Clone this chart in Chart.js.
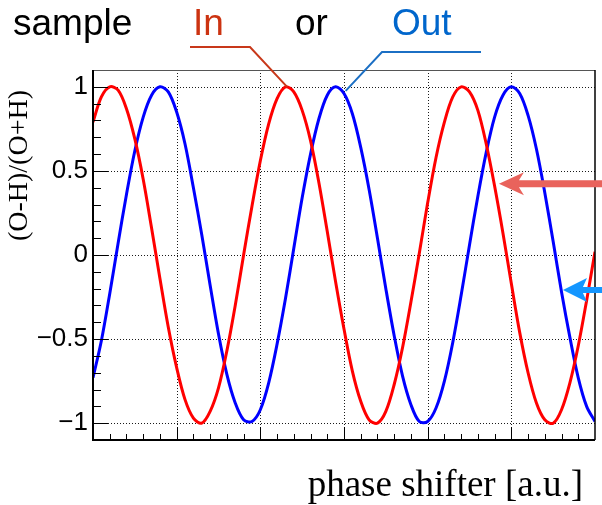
<!DOCTYPE html>
<html>
<head>
<meta charset="utf-8">
<script src="https://cdn.jsdelivr.net/npm/chart.js@4.4.1/dist/chart.umd.min.js"></script>
<style>
  html, body { margin: 0; padding: 0; background: #fff; }
  canvas { display: block; }
</style>
</head>
<body>
<canvas id="c" width="602" height="505"></canvas>
<script>
// Phase-shifter settings (a.u.)
const phase = [
  0.0, 0.1, 0.2, 0.3, 0.4, 0.5, 0.6, 0.7, 0.8, 0.9,
  1.0, 1.1, 1.2, 1.3, 1.4, 1.5, 1.6, 1.7, 1.8, 1.9,
  2.0, 2.1, 2.2, 2.3, 2.4, 2.5, 2.6, 2.7, 2.8, 2.9,
  3.0, 3.1, 3.2, 3.3, 3.4, 3.5, 3.6, 3.7, 3.8, 3.9,
  4.0, 4.1, 4.2, 4.3, 4.4, 4.5, 4.6, 4.7, 4.8, 4.9,
  5.0, 5.1, 5.2, 5.3, 5.4, 5.5, 5.6, 5.7, 5.8, 5.9,
  6.0
];

// Asymmetry (O-H)/(O+H) with the sample "In"
const asymIn = [
   0.79,  0.94,  1.00,  0.98,  0.87,  0.69,  0.45,  0.16, -0.14, -0.43,
  -0.67, -0.86, -0.97, -1.00, -0.93, -0.79, -0.57, -0.30,  0.00,  0.29,
   0.56,  0.78,  0.93,  1.00,  0.97,  0.86,  0.68,  0.43,  0.14, -0.16,
  -0.44, -0.69, -0.87, -0.98, -1.00, -0.93, -0.77, -0.55, -0.28,  0.01,
   0.31,  0.58,  0.79,  0.94,  1.00,  0.97,  0.86,  0.66,  0.41,  0.13,
  -0.17, -0.46, -0.70, -0.88, -0.98, -1.00, -0.92, -0.76, -0.54, -0.27,
   0.02
];

// Asymmetry (O-H)/(O+H) with the sample "Out"
const asymOut = [
  -0.73, -0.51, -0.23,  0.07,  0.36,  0.62,  0.82,  0.95,  1.00,  0.97,
   0.85,  0.66,  0.40,  0.12, -0.18, -0.47, -0.71, -0.88, -0.98, -0.99,
  -0.92, -0.76, -0.53, -0.26,  0.04,  0.34,  0.60,  0.81,  0.95,  1.00,
   0.96,  0.84,  0.64,  0.39,  0.10, -0.20, -0.48, -0.72, -0.89, -0.99,
  -0.99, -0.91, -0.75, -0.52, -0.24,  0.06,  0.35,  0.61,  0.82,  0.95,
   1.00,  0.96,  0.83,  0.63,  0.37,  0.08, -0.22, -0.49, -0.73, -0.90,
  -0.99
];

const yTickValues = [-1, -0.5, 0, 0.5, 1];
const yTickLabels = ['\u22121', '\u22120.5', '0', '0.5', '1'];
const xMajorTicks = [0, 1, 2, 3, 4, 5, 6];

// Arrow tips and leader-line anchors, in data units
const arrowIn  = { x: 4.852, y: 0.423 };
const arrowOut = { x: 5.617, y: -0.208 };
const leaderIn  = { x: 2.32, y: 1.0 };
const leaderOut = { x: 3.02, y: 0.976 };

const SANS = '"Liberation Sans", Arial, Helvetica, sans-serif';
const SERIF = '"Liberation Serif", "Times New Roman", Times, serif';

// Grid, tick marks and frame in the style of a ROOT canvas
const framePlugin = {
  id: 'frame',
  beforeDatasetsDraw(chart) {
    const { ctx, chartArea: a, scales: { x, y } } = chart;
    ctx.save();
    ctx.strokeStyle = '#1a1a1a';
    ctx.lineWidth = 1;
    ctx.setLineDash([1, 2]);
    for (const v of yTickValues) {
      const py = Math.round(y.getPixelForValue(v)) + 0.5;
      ctx.beginPath(); ctx.moveTo(a.left, py); ctx.lineTo(a.right, py); ctx.stroke();
    }
    for (const v of xMajorTicks) {
      if (v <= x.min || v >= x.max) continue;
      const px = Math.round(x.getPixelForValue(v)) + 0.5;
      ctx.beginPath(); ctx.moveTo(px, a.bottom); ctx.lineTo(px, a.top); ctx.stroke();
    }
    ctx.restore();
  },
  afterDatasetsDraw(chart) {
    const { ctx, chartArea: a, scales: { x, y } } = chart;
    ctx.save();
    ctx.setLineDash([]);
    ctx.strokeStyle = '#000';
    ctx.lineWidth = 1;
    // y axis ticks: major every 0.5, minor every 0.1
    for (let i = -10; i <= 10; i++) {
      const py = Math.round(y.getPixelForValue(i / 10)) + 0.5;
      const len = (i % 5 === 0) ? 15 : 8;
      ctx.beginPath(); ctx.moveTo(a.left, py); ctx.lineTo(a.left + len, py); ctx.stroke();
    }
    // x axis ticks: major every 1, minor every 0.2
    for (let i = 1; i < 30; i++) {
      const px = Math.round(x.getPixelForValue(i / 5)) + 0.5;
      const len = (i % 5 === 0) ? 13 : 6;
      ctx.beginPath(); ctx.moveTo(px, a.bottom); ctx.lineTo(px, a.bottom - len); ctx.stroke();
    }
    // frame
    ctx.strokeStyle = '#555';
    ctx.lineWidth = 1;
    ctx.beginPath(); ctx.moveTo(a.left, a.top + 0.5); ctx.lineTo(a.right, a.top + 0.5); ctx.stroke();
    ctx.strokeStyle = '#000';
    ctx.lineWidth = 1.5;
    ctx.beginPath(); ctx.moveTo(a.right, a.top); ctx.lineTo(a.right, a.bottom); ctx.stroke();
    ctx.lineWidth = 2;
    ctx.beginPath();
    ctx.moveTo(a.left, a.top); ctx.lineTo(a.left, a.bottom); ctx.lineTo(a.right, a.bottom);
    ctx.stroke();
    ctx.restore();
  }
};

function drawArrow(ctx, tipX, tipY, endX, color, shaft, headLen, headHalf, notch) {
  ctx.save();
  ctx.fillStyle = color;
  ctx.beginPath();
  ctx.moveTo(tipX, tipY);
  ctx.lineTo(tipX + headLen, tipY - headHalf);
  ctx.lineTo(tipX + headLen - notch, tipY - shaft / 2);
  ctx.lineTo(endX, tipY - shaft / 2);
  ctx.lineTo(endX, tipY + shaft / 2);
  ctx.lineTo(tipX + headLen - notch, tipY + shaft / 2);
  ctx.lineTo(tipX + headLen, tipY + headHalf);
  ctx.closePath();
  ctx.fill();
  ctx.restore();
}

// Heading, leader lines, axis titles and arrows
const labelsPlugin = {
  id: 'labels',
  afterDraw(chart) {
    const { ctx, scales: { x, y } } = chart;
    ctx.save();
    ctx.textBaseline = 'alphabetic';
    ctx.textAlign = 'left';
    ctx.font = '37px ' + SANS;
    ctx.fillStyle = '#000';
    ctx.fillText('sample', 13, 35);
    ctx.fillStyle = '#cc3311';
    ctx.fillText('In', 193, 35);
    ctx.fillStyle = '#000';
    ctx.fillText('or', 295, 35);
    ctx.fillStyle = '#0066cc';
    ctx.fillText('Out', 392, 35);

    ctx.lineWidth = 2;
    ctx.strokeStyle = '#c8381a';
    ctx.beginPath();
    ctx.moveTo(190, 47); ctx.lineTo(250, 47);
    ctx.lineTo(x.getPixelForValue(leaderIn.x), y.getPixelForValue(leaderIn.y));
    ctx.stroke();
    ctx.strokeStyle = '#1b6fc4';
    ctx.beginPath();
    ctx.moveTo(481, 52); ctx.lineTo(382, 52);
    ctx.lineTo(x.getPixelForValue(leaderOut.x), y.getPixelForValue(leaderOut.y));
    ctx.stroke();

    // axis titles
    ctx.fillStyle = '#000';
    ctx.font = '37px ' + SERIF;
    ctx.textAlign = 'right';
    ctx.fillText('phase shifter [a.u.]', 583, 496);
    ctx.save();
    ctx.font = '28px ' + SERIF;
    ctx.translate(27, 90);
    ctx.rotate(-Math.PI / 2);
    ctx.textAlign = 'right';
    ctx.fillText('(O-H)/(O+H)', 0, 0);
    ctx.restore();

    // arrows pointing at the curves
    drawArrow(ctx, x.getPixelForValue(arrowIn.x), y.getPixelForValue(arrowIn.y),
              chart.width, '#e9635c', 7, 25, 11.5, 5);
    drawArrow(ctx, x.getPixelForValue(arrowOut.x), y.getPixelForValue(arrowOut.y),
              chart.width, '#1496ff', 6, 24, 12, 4);
    ctx.restore();
  }
};

const toPoints = (vals) => phase.map((p, i) => ({ x: p, y: vals[i] }));

new Chart(document.getElementById('c'), {
  type: 'line',
  data: {
    datasets: [
      {
        label: 'In',
        data: toPoints(asymIn),
        borderColor: '#ff0000',
        borderWidth: 3,
        pointRadius: 0,
        tension: 0.33,
        fill: false
      },
      {
        label: 'Out',
        data: toPoints(asymOut),
        borderColor: '#0000ff',
        borderWidth: 3,
        pointRadius: 0,
        tension: 0.33,
        fill: false
      }
    ]
  },
  options: {
    responsive: false,
    animation: false,
    devicePixelRatio: 1,
    layout: { padding: { top: 70, right: 7, left: 0, bottom: 0 } },
    plugins: {
      legend: { display: false },
      tooltip: { enabled: false },
      title: { display: false }
    },
    scales: {
      x: {
        type: 'linear',
        min: 0,
        max: 6,
        ticks: { display: false },
        grid: { display: false, drawTicks: false },
        border: { display: false },
        afterFit(s) { s.height = 65; }
      },
      y: {
        type: 'linear',
        min: -1.1,
        max: 1.1,
        afterBuildTicks(s) { s.ticks = yTickValues.map(v => ({ value: v })); },
        ticks: {
          callback: (v, i) => yTickLabels[i],
          font: { family: SANS, size: 26 },
          color: '#000',
          padding: 5
        },
        grid: { display: false, drawTicks: false },
        border: { display: false },
        afterFit(s) { s.width = 93; }
      }
    }
  },
  plugins: [framePlugin, labelsPlugin]
});
</script>
</body>
</html>
